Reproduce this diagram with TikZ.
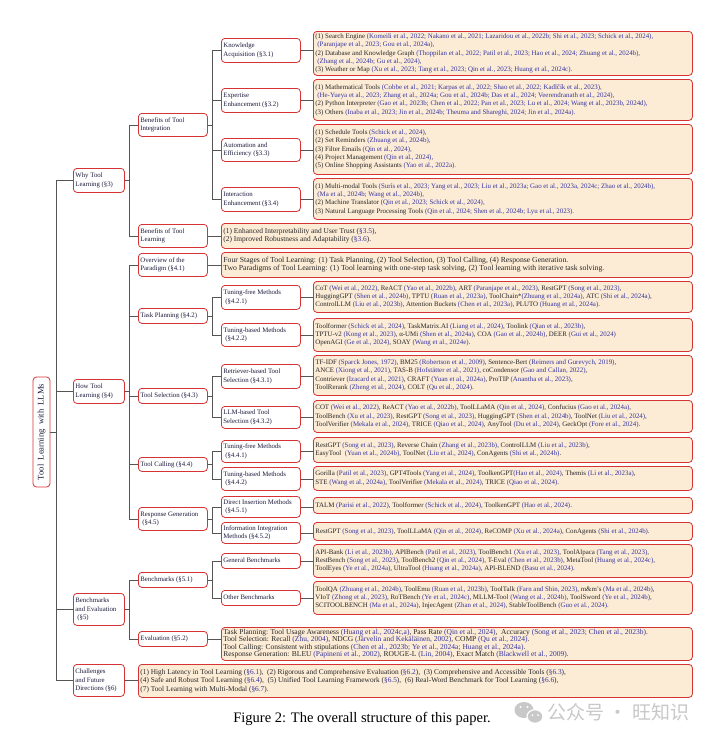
\documentclass[tikz,border=0pt]{standalone}
\usepackage{fontspec}
\setmainfont{Liberation Serif}
\newfontfamily\cjkfont{Noto Sans CJK SC}
\definecolor{bred}{RGB}{214,52,52}
\definecolor{lfill}{RGB}{252,236,214}
\definecolor{ctc}{RGB}{52,52,160}
\definecolor{lbl}{RGB}{28,28,60}
\definecolor{lnc}{RGB}{85,85,85}
\definecolor{wm}{RGB}{200,200,200}
\newcommand\ct[1]{\textcolor{ctc}{#1}}
\newcommand\ind{\hspace*{2pt}}
\newcommand\bx[7]{%
 \pgfmathsetmacro\bxw{#5-#3}\pgfmathsetmacro\bxh{#6-#4}\pgfmathsetmacro\bxt{#5-#3-4}%
 \node[#1,anchor=north west,minimum width=\bxw pt,minimum height=\bxh pt] (#2) at (#3,#4)
   {\makebox[\bxt pt][l]{\begin{tabular}{@{}l@{}}#7\end{tabular}}};}
\tikzset{
 base/.style={draw=bred, line width=0.8pt, rounded corners=3.5pt, inner xsep=2pt, inner ysep=0.5pt},
 lvl/.style={base, fill=white, text=lbl, font=\fontsize{6.8}{8.3}\selectfont},
 leaf/.style={base, fill=lfill, text=black!85, font=\fontsize{6.9}{8.3}\selectfont},
 conn/.style={draw=lnc, line width=0.8pt},
}
\begin{document}
\begin{tikzpicture}[x=1pt,y=-1pt]
\fill[white] (0,0) rectangle (715,742);
\useasboundingbox (0,0) rectangle (715,742);
% root
\node[base, fill=white, text=lbl, minimum width=17pt, minimum height=110pt, inner sep=0pt, font=\fontsize{8.6}{10}\selectfont] (root) at (41.5,432) {\rotatebox{90}{Tool\ \ Learning\ \ with\ \ LLMs}};
% level 1
\bx{lvl}{why}{73}{168}{124}{192}{Why Tool\\Learning (§3)}
\bx{lvl}{how}{73}{379}{124}{403}{How Tool\\Learning (§4)}
\bx{lvl}{bev}{73}{593}{124}{625}{Benchmarks\\and Evaluation\\\ind(§5)}
\bx{lvl}{chal}{73}{664}{124}{696}{Challenges\\and Future\\Directions (§6)}
% level 2
\bx{lvl}{bti}{138}{113}{207}{136}{Benefits of Tool\\Integration}
\bx{lvl}{btl}{138}{224}{207}{247}{Benefits of Tool\\Learning}
\bx{lvl}{ovw}{138}{253}{207}{276}{Overview of the\\Paradigm (§4.1)}
\bx{lvl}{tp}{138}{308}{207}{323}{Task Planning (§4.2)}
\bx{lvl}{ts}{138}{388}{207}{403}{Tool Selection (§4.3)}
\bx{lvl}{tc}{138}{457}{207}{471}{Tool Calling (§4.4)}
\bx{lvl}{rg}{138}{507}{207}{530}{Response Generation\\\ind(§4.5)}
\bx{lvl}{bm}{138}{572}{207}{587}{Benchmarks (§5.1)}
\bx{lvl}{ev}{138}{631}{207}{646}{Evaluation (§5.2)}
% level 3
\bx{lvl}{ka}{221}{38}{300}{62}{Knowledge\\Acquisition (§3.1)}
\bx{lvl}{ee}{221}{88}{300}{112}{Expertise\\Enhancement (§3.2)}
\bx{lvl}{ae}{221}{138}{300}{161}{Automation and\\Efficiency (§3.3)}
\bx{lvl}{ie}{221}{187}{300}{211}{Interaction\\Enhancement (§3.4)}
\bx{lvl}{tfa}{221}{285}{300}{309}{Tuning-free Methods\\\ind(§4.2.1)}
\bx{lvl}{tba}{221}{323}{300}{346}{Tuning-based Methods\\\ind(§4.2.2)}
\bx{lvl}{rts}{221}{364}{300}{388}{Retriever-based Tool\\Selection (§4.3.1)}
\bx{lvl}{lts}{221}{406}{300}{428}{LLM-based Tool\\Selection (§4.3.2)}
\bx{lvl}{tfb}{221}{440}{300}{462}{Tuning-free Methods\\\ind(§4.4.1)}
\bx{lvl}{tbb}{221}{467}{300}{490}{Tuning-based Methods\\\ind(§4.4.2)}
\bx{lvl}{dim}{221}{496}{300}{517}{Direct Insertion Methods\\\ind(§4.5.1)}
\bx{lvl}{iim}{221}{522}{300}{543}{Information Integration\\Methods (§4.5.2)}
\bx{lvl}{gb}{221}{553}{300}{568}{General Benchmarks}
\bx{lvl}{ob}{221}{590}{300}{605}{Other Benchmarks}
% leaves
\bx{leaf}{kaL}{313}{31}{692}{75}{(1) Search Engine \ct{(Komeili et al., 2022; Nakano et al., 2021; Lazaridou et al., 2022b; Shi et al., 2023; Schick et al., 2024),}\\
\ind\ct{(Paranjape et al., 2023; Gou et al., 2024a),}\\
(2) Database and Knowledge Graph \ct{(Thoppilan et al., 2022; Patil et al., 2023; Hao et al., 2024; Zhuang et al., 2024b),}\\
\ind\ct{(Zhang et al., 2024b; Gu et al., 2024),}\\
(3) Weather or Map \ct{(Xu et al., 2023; Tang et al., 2023; Qin et al., 2023; Huang et al., 2024c).}}
\bx{leaf}{eeL}{313}{79}{692}{120}{(1) Mathematical Tools \ct{(Cobbe et al., 2021; Karpas et al., 2022; Shao et al., 2022; Kadlčík et al., 2023),}\\
\ind\ct{(He-Yueya et al., 2023; Zhang et al., 2024a; Gou et al., 2024b; Das et al., 2024; Veerendranath et al., 2024),}\\
(2) Python Interpreter \ct{(Gao et al., 2023b; Chen et al., 2022; Pan et al., 2023; Lu et al., 2024; Wang et al., 2023b, 2024d),}\\
(3) Others \ct{(Inaba et al., 2023; Jin et al., 2024b; Theuma and Shareghi, 2024; Jin et al., 2024a).}}
\bx{leaf}{aeL}{313}{124}{692}{174}{(1) Schedule Tools \ct{(Schick et al., 2024),}\\
(2) Set Reminders \ct{(Zhuang et al., 2024b),}\\
(3) Filter Emails \ct{(Qin et al., 2024),}\\
(4) Project Management \ct{(Qin et al., 2024),}\\
(5) Online Shopping Assistants \ct{(Yao et al., 2022a).}}
\bx{leaf}{ieL}{313}{178}{692}{219}{(1) Multi-modal Tools \ct{(Surís et al., 2023; Yang et al., 2023; Liu et al., 2023a; Gao et al., 2023a, 2024c; Zhao et al., 2024b),}\\
\ind\ct{(Ma et al., 2024b; Wang et al., 2024b),}\\
(2) Machine Translator \ct{(Qin et al., 2023; Schick et al., 2024),}\\
(3) Natural Language Processing Tools \ct{(Qin et al., 2024; Shen et al., 2024b; Lyu et al., 2023).}}
\bx{leaf,font=\fontsize{7.4}{8.7}\selectfont}{btlL}{221}{223}{692}{248}{(1) Enhanced Interpretability and User Trust (\ct{§3.5}),\\
(2) Improved Robustness and Adaptability (\ct{§3.6}).}
\bx{leaf,font=\fontsize{7.7}{8.7}\selectfont}{ovwL}{221}{252}{692}{277}{Four Stages of Tool Learning: (1) Task Planning, (2) Tool Selection, (3) Tool Calling, (4) Response Generation.\\
Two Paradigms of Tool Learning: (1) Tool learning with one-step task solving, (2) Tool learning with iterative task solving.}
\bx{leaf}{tfaL}{313}{281}{692}{312}{CoT \ct{(Wei et al., 2022)}, ReACT \ct{(Yao et al., 2022b)}, ART \ct{(Paranjape et al., 2023)}, RestGPT \ct{(Song et al., 2023)},\\
HuggingGPT \ct{(Shen et al., 2024b)}, TPTU \ct{(Ruan et al., 2023a)}, ToolChain*\ct{(Zhuang et al., 2024a)}, ATC \ct{(Shi et al., 2024a)},\\
ControlLLM \ct{(Liu et al., 2023b)}, Attention Buckets \ct{(Chen et al., 2023a)}, PLUTO \ct{(Huang et al., 2024a)}.}
\bx{leaf}{tbaL}{313}{318}{692}{351}{Toolformer \ct{(Schick et al., 2024)}, TaskMatrix.AI \ct{(Liang et al., 2024)}, Toolink \ct{(Qian et al., 2023b)},\\
TPTU-v2 \ct{(Kong et al., 2023)}, α-UMi \ct{(Shen et al., 2024a)}, COA \ct{(Gao et al., 2024b)}, DEER \ct{(Gui et al., 2024)}\\
OpenAGI \ct{(Ge et al., 2024)}, SOAY \ct{(Wang et al., 2024e)}.}
\bx{leaf}{rtsL}{313}{355}{692}{395}{TF-IDF \ct{(Sparck Jones, 1972)}, BM25 \ct{(Robertson et al., 2009)}, Sentence-Bert \ct{(Reimers and Gurevych, 2019)},\\
ANCE \ct{(Xiong et al., 2021)}, TAS-B \ct{(Hofstätter et al., 2021)}, coCondensor \ct{(Gao and Callan, 2022)},\\
Contriever \ct{(Izacard et al., 2021)}, CRAFT \ct{(Yuan et al., 2024a)}, ProTIP \ct{(Anantha et al., 2023)},\\
ToolRerank \ct{(Zheng et al., 2024)}, COLT \ct{(Qu et al., 2024)}.}
\bx{leaf}{ltsL}{313}{400}{692}{432}{COT \ct{(Wei et al., 2022)}, ReACT \ct{(Yao et al., 2022b)}, ToolLLaMA \ct{(Qin et al., 2024)}, Confucius \ct{(Gao et al., 2024a)},\\
ToolBench \ct{(Xu et al., 2023)}, RestGPT \ct{(Song et al., 2023)}, HuggingGPT \ct{(Shen et al., 2024b)}, ToolNet \ct{(Liu et al., 2024)},\\
ToolVerifier \ct{(Mekala et al., 2024)}, TRICE \ct{(Qiao et al., 2024)}, AnyTool \ct{(Du et al., 2024)}, GeckOpt \ct{(Fore et al., 2024)}.}
\bx{leaf}{tfbL}{313}{437}{692}{462}{RestGPT \ct{(Song et al., 2023)}, Reverse Chain \ct{(Zhang et al., 2023b)}, ControlLLM \ct{(Liu et al., 2023b)},\\
EasyTool \ \ct{(Yuan et al., 2024b)}, ToolNet \ct{(Liu et al., 2024)}, ConAgents \ct{(Shi et al., 2024b)}.}
\bx{leaf}{tbbL}{313}{466}{692}{490}{Gorilla \ct{(Patil et al., 2023)}, GPT4Tools \ct{(Yang et al., 2024)}, ToolkenGPT\ct{(Hao et al., 2024)}, Themis \ct{(Li et al., 2023a)},\\
STE \ct{(Wang et al., 2024a)}, ToolVerifier \ct{(Mekala et al., 2024)}, TRICE \ct{(Qiao et al., 2024)}.}
\bx{leaf}{dimL}{313}{497}{692}{513}{TALM \ct{(Parisi et al., 2022)}, Toolformer \ct{(Schick et al., 2024)}, ToolkenGPT \ct{(Hao et al., 2024)}.}
\bx{leaf}{iimL}{313}{522}{692}{540}{RestGPT \ct{(Song et al., 2023)}, ToolLLaMA \ct{(Qin et al., 2024)}, ReCOMP \ct{(Xu et al., 2024a)}, ConAgents \ct{(Shi et al., 2024b)}.}
\bx{leaf}{gbL}{313}{544}{692}{577}{API-Bank \ct{(Li et al., 2023b)}, APIBench \ct{(Patil et al., 2023)}, ToolBench1 \ct{(Xu et al., 2023)}, ToolAlpaca \ct{(Tang et al., 2023)},\\
RestBench \ct{(Song et al., 2023)}, ToolBench2 \ct{(Qin et al., 2024)}, T-Eval \ct{(Chen et al., 2023b)}, MetaTool \ct{(Huang et al., 2024c)},\\
ToolEyes \ct{(Ye et al., 2024a)}, UltraTool \ct{(Huang et al., 2024a)}, API-BLEND \ct{(Basu et al., 2024)}.}
\bx{leaf}{obL}{313}{581}{692}{614}{ToolQA \ct{(Zhuang et al., 2024b)}, ToolEmu \ct{(Ruan et al., 2023b)}, ToolTalk \ct{(Farn and Shin, 2023)}, m\&m's \ct{(Ma et al., 2024b)},\\
VIoT \ct{(Zhong et al., 2023)}, RoTBench \ct{(Ye et al., 2024c)}, MLLM-Tool \ct{(Wang et al., 2024b)}, ToolSword \ct{(Ye et al., 2024b)},\\
SCITOOLBENCH \ct{(Ma et al., 2024a)}, InjecAgent \ct{(Zhan et al., 2024)}, StableToolBench \ct{(Guo et al., 2024)}.}
\bx{leaf,font=\fontsize{7.5}{7.3}\selectfont}{evL}{221}{627}{692}{660}{Task Planning: Tool Usage Awareness \ct{(Huang et al., 2024c,a)}, Pass Rate \ct{(Qin et al., 2024)}, \ Accuracy \ct{(Song et al., 2023; Chen et al., 2023b)}.\\
Tool Selection: Recall \ct{(Zhu, 2004)}, NDCG \ct{(Järvelin and Kekäläinen, 2002)}, COMP \ct{(Qu et al., 2024)}.\\
Tool Calling: Consistent with stipulations \ct{(Chen et al., 2023b; Ye et al., 2024a; Huang et al., 2024a)}.\\
Response Generation: BLEU \ct{(Papineni et al., 2002)}, ROUGE-L \ct{(Lin, 2004)}, Exact Match \ct{(Blackwell et al., 2009)}.}
\bx{leaf,font=\fontsize{7.35}{8.5}\selectfont}{chalL}{138}{664}{692}{697}{(1) High Latency in Tool Learning (\ct{§6.1}), \ (2) Rigorous and Comprehensive Evaluation (\ct{§6.2}), \ (3) Comprehensive and Accessible Tools (\ct{§6.3}),\\
(4) Safe and Robust Tool Learning (\ct{§6.4}), \ (5) Unified Tool Learning Framework (\ct{§6.5}), \ (6) Real-Word Benchmark for Tool Learning (\ct{§6.6}),\\
(7) Tool Learning with Multi-Modal (\ct{§6.7}).}
% connectors root -> level 1
\foreach \c in {why,how,bev,chal} \draw[conn] (root.east) -- ++(6,0) |- (\c.west);
% level 1 -> level 2
\foreach \c in {bti,btl} \draw[conn] (why.east) -- ++(5,0) |- (\c.west);
\foreach \c in {ovw,tp,ts,tc,rg} \draw[conn] (how.east) -- ++(5,0) |- (\c.west);
\foreach \c in {bm,ev} \draw[conn] (bev.east) -- ++(5,0) |- (\c.west);
\draw[conn] (chal.east) -- (chal.east -| chalL.west);
% level 2 -> level 3
\foreach \c in {ka,ee,ae,ie} \draw[conn] (bti.east) -- ++(5,0) |- (\c.west);
\foreach \c in {tfa,tba} \draw[conn] (tp.east) -- ++(5,0) |- (\c.west);
\foreach \c in {rts,lts} \draw[conn] (ts.east) -- ++(5,0) |- (\c.west);
\foreach \c in {tfb,tbb} \draw[conn] (tc.east) -- ++(5,0) |- (\c.west);
\foreach \c in {dim,iim} \draw[conn] (rg.east) -- ++(5,0) |- (\c.west);
\foreach \c in {gb,ob} \draw[conn] (bm.east) -- ++(5,0) |- (\c.west);
\foreach \c in {btl,ovw,ev} \draw[conn] (\c.east) -- (\c.east -| \c L.west);
% level 3 -> leaves
\foreach \c in {ka,ee,ae,ie,tfa,tba,rts,lts,tfb,tbb,dim,iim,gb,ob} \draw[conn] (\c.east) -- (\c.east -| \c L.west);
% caption
\node[font=\fontsize{14.5}{16}\selectfont, text=black] (cap) at (362,719) {Figure 2: The overall structure of this paper.};
% watermark
\fill[wm] (524,710) ellipse (9.5pt and 8pt);
\draw[fill=wm, line width=1.2pt, draw=white] (535,716.5) ellipse (8pt and 6.8pt);
\fill[white] (520.5,707) circle (1.2pt) (527.5,707) circle (1.2pt) (532.5,715) circle (1pt) (538,715) circle (1pt);
\node[font=\cjkfont\fontsize{19}{21}\selectfont, text=wm, anchor=west] (wmark) at (544,712) {公众号 · 旺知识};
\end{tikzpicture}
\end{document}
